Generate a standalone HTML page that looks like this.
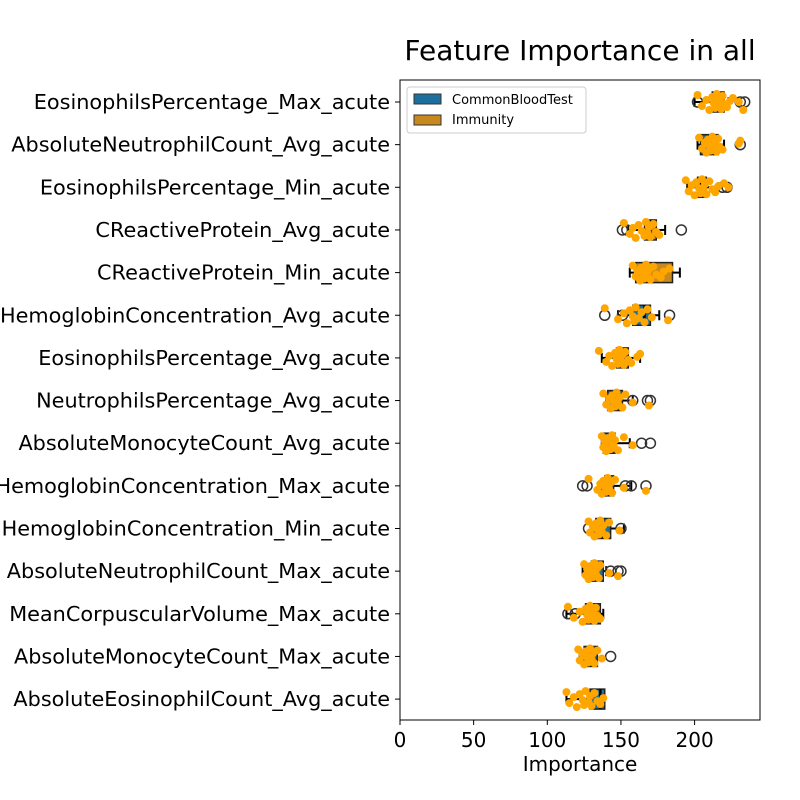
<!DOCTYPE html>
<html><head><meta charset="utf-8"><style>
body{margin:0;background:#fff;}
svg{display:block;font-family:"DejaVu Sans","Liberation Sans",sans-serif;}
</style></head><body>
<svg id="chart" width="800" height="800" viewBox="0 0 800 800" xmlns="http://www.w3.org/2000/svg">
<text x="580" y="60" font-size="28" text-anchor="middle">Feature Importance in all</text>
<g id="plot"></g>
<rect x="400" y="80" width="360" height="640" fill="none" stroke="#000" stroke-width="1"/>
<g>
<rect x="407" y="87" width="179" height="46" rx="3" fill="#fff" fill-opacity="0.8" stroke="#ccc"/>
<rect x="414" y="94" width="27" height="10" fill="#1f6f9e" stroke="#333"/>
<text x="452" y="104" font-size="13">CommonBloodTest</text>
<rect x="414" y="115" width="27" height="10" fill="#c88a1e" stroke="#333"/>
<text x="452" y="124" font-size="13">Immunity</text>
</g>
<text x="580" y="771" font-size="20" text-anchor="middle">Importance</text>
</svg>
<script>
const features=["EosinophilsPercentage_Max_acute","AbsoluteNeutrophilCount_Avg_acute","EosinophilsPercentage_Min_acute","CReactiveProtein_Avg_acute","CReactiveProtein_Min_acute","HemoglobinConcentration_Avg_acute","EosinophilsPercentage_Avg_acute","NeutrophilsPercentage_Avg_acute","AbsoluteMonocyteCount_Avg_acute","HemoglobinConcentration_Max_acute","HemoglobinConcentration_Min_acute","AbsoluteNeutrophilCount_Max_acute","MeanCorpuscularVolume_Max_acute","AbsoluteMonocyteCount_Max_acute","AbsoluteEosinophilCount_Avg_acute"];
const groups=["C","C","C","I","I","C","C","C","C","C","C","C","C","C","C"];
const q1=[212,204,202,166,160,158,147,141,138,139,133,130,126,125,129];
const medians=[216,210,204,170,167,166,153,146,144,142,138,133,132,129,136];
const q3=[220,216,208,174,185,170,155,151,146,145,143,138,136,134,139];
const whiskLo=[200,202,195,155,156,148,137,140,137,137,132,124,113,122,113];
const whiskHi=[223,220,216,180,190,176,163,158,156,157,152,140,138,132,138];
const outliers=[[202,231,234],[231],[219,222],[151,154,191],[],[139,151,183],[],[158,168,170],[164,170],[124,127,153,157,167],[128,150],[143,148,150],[114,119],[143],[]];
const points=[
[202,205,208,210,212,213,214,215,216,217,218,219,220,222,224,226,230,233],
[203,205,207,208,209,210,211,212,213,214,215,216,217,219,230,231],
[194,196,198,200,201,203,204,205,206,207,208,210,212,214,216,220,223],
[152,156,158,160,162,164,166,167,168,169,170,172,174,176],
[158,160,161,163,164,165,166,167,168,169,170,172,174,177,179,183],
[139,148,152,154,156,158,159,160,162,164,166,168,171,182],
[135,140,142,144,146,147,148,149,150,151,152,153,155,157,161,163],
[138,140,142,143,144,145,146,147,148,149,151,153,158,169],
[137,138,139,140,141,142,143,144,145,146,148,152,158],
[128,134,136,137,138,139,140,141,142,143,144,146,152,167],
[128,129,131,132,133,134,135,136,137,138,140,142,149],
[125,126,127,128,129,130,131,132,133,134,135,136,142,148],
[114,118,122,124,126,127,128,129,130,131,132,133,134,136],
[121,122,124,125,126,127,128,129,130,131,132,134,137],
[113,115,118,120,122,124,125,126,128,129,130,132,134,136,138]
];
const xTicks=[0,50,100,150,200];
const jit=[-7,4,-2,8,-5,1,6,-8,3,-3,7,-6,2,5,-1,-4,0,8];
const X=v=>400+v*1.473;
const Y=i=>102+i*42.65;
const NS="http://www.w3.org/2000/svg";
const svg=document.getElementById("chart");
const plot=document.getElementById("plot");
function mk(tag,attrs,parent){const e=document.createElementNS(NS,tag);for(const k in attrs)e.setAttribute(k,attrs[k]);(parent||plot).appendChild(e);return e;}
xTicks.forEach(t=>{
  const l=mk("line",{x1:X(t),x2:X(t),y1:720,y2:725,stroke:"#000"},svg);
  
  
  const tx=mk("text",{x:X(t),y:747,"font-size":20,"text-anchor":"middle"},svg);
  tx.textContent=t;
  
  
});
features.forEach((f,i)=>{
  const y=Y(i);
  const tk=mk("line",{x1:395,x2:400,y1:y,y2:y,stroke:"#000"},svg);
  
  
  const lb=mk("text",{x:390,y:y+7,"font-size":20.8,"text-anchor":"end"},svg);
  lb.textContent=f;
  
  
  const g=mk("g",{});
  
  
  mk("line",{x1:X(whiskLo[i]),x2:X(q1[i]),y1:y,y2:y,stroke:"#000","stroke-width":2},g);
  mk("line",{x1:X(q3[i]),x2:X(whiskHi[i]),y1:y,y2:y,stroke:"#000","stroke-width":2},g);
  mk("line",{x1:X(whiskLo[i]),x2:X(whiskLo[i]),y1:y-5,y2:y+5,stroke:"#000","stroke-width":2},g);
  mk("line",{x1:X(whiskHi[i]),x2:X(whiskHi[i]),y1:y-5,y2:y+5,stroke:"#000","stroke-width":2},g);
  const b=mk("rect",{x:X(q1[i]),y:y-10,width:X(q3[i])-X(q1[i]),height:20,fill:groups[i]==="I"?"#c88a1e":"#1f6f9e",stroke:"#222","stroke-width":1.5},g);
  
  
  mk("line",{x1:X(medians[i]),x2:X(medians[i]),y1:y-10,y2:y+10,stroke:"#000","stroke-width":2.5},g);
  outliers[i].forEach(o=>{
    const c=mk("circle",{cx:X(o),cy:y,r:5,fill:"none",stroke:"#333","stroke-width":1.5},g);
    
    
  });
  points[i].forEach((p,j)=>{
    const c=mk("circle",{cx:X(p),cy:y+jit[j%jit.length],r:4,fill:"#ffa500"},g);
    
    
  });
});
</script>
</body></html>
